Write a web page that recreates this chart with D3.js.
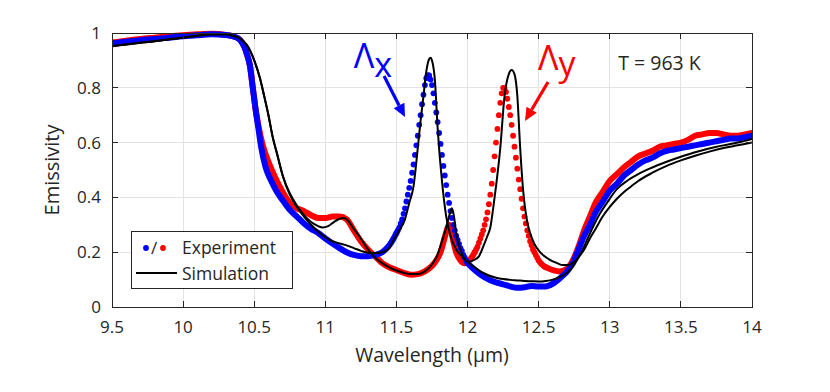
<!DOCTYPE html>
<html>
<head>
<meta charset="utf-8">
<script src="https://cdn.jsdelivr.net/npm/d3@7"></script>
<style>
  html, body { margin: 0; padding: 0; background: #fff; }
  svg { display: block; font-family: "Open Sans", "Noto Sans", sans-serif; }
</style>
</head>
<body>
<svg id="chart" width="830" height="392"></svg>
<script>
// ---------------- data ----------------
const xTicks = [9.5, 10, 10.5, 11, 11.5, 12, 12.5, 13, 13.5, 14];
const yTicks = [0, 0.2, 0.4, 0.6, 0.8, 1];

// Experiment, Λx (blue) – solid-looking parts
const blueLineA = [
  [9.50,0.962],[9.60,0.968],[9.70,0.974],[9.80,0.978],[9.90,0.983],[10.00,0.988],[10.10,0.992],
  [10.20,0.995],[10.30,0.993],[10.35,0.988],[10.40,0.975],[10.43,0.95],[10.45,0.92],[10.47,0.88],
  [10.49,0.80],[10.51,0.72],[10.53,0.65],[10.55,0.58],[10.58,0.51],[10.62,0.46],[10.66,0.42],
  [10.70,0.39],[10.75,0.355],[10.80,0.33],[10.85,0.305],[10.90,0.285],[10.95,0.27],[11.00,0.25],
  [11.05,0.232],[11.10,0.215],[11.15,0.20],[11.20,0.19],[11.25,0.185],[11.30,0.185],[11.35,0.19],
  [11.40,0.20],[11.45,0.225],[11.48,0.25],[11.50,0.27]
];
// Experiment, Λx – resonance sampled points (drawn as separate dots)
const blueDotsX = [11.50,11.51,11.52,11.53,11.54,11.55,11.56,11.57,11.58,11.59,11.60,11.61,11.62,11.63,11.64,
  11.65,11.66,11.67,11.68,11.69,11.70,11.71,11.72,11.73,11.74,11.75,11.76,11.77,11.78,11.79,11.80,11.81,
  11.82,11.83,11.84,11.85,11.86,11.87,11.88,11.89,11.90,11.91,11.92,11.93,11.94,11.95,11.96,11.97,11.98,
  11.99,12.00];
const blueDotsY = [0.27,0.28,0.29,0.305,0.32,0.34,0.36,0.385,0.41,0.435,0.46,0.49,0.52,0.555,0.59,
  0.625,0.665,0.70,0.74,0.775,0.81,0.835,0.846,0.845,0.83,0.81,0.78,0.745,0.71,0.675,0.635,0.595,
  0.555,0.515,0.48,0.445,0.41,0.38,0.35,0.325,0.30,0.28,0.26,0.245,0.23,0.215,0.205,0.19,0.18,
  0.17,0.16];
const blueLineB = [
  [12.00,0.16],[12.05,0.135],[12.10,0.115],[12.15,0.10],[12.20,0.09],[12.25,0.083],[12.30,0.075],
  [12.35,0.07],[12.40,0.072],[12.45,0.077],[12.50,0.075],[12.55,0.075],[12.60,0.085],[12.65,0.105],
  [12.70,0.13],[12.74,0.16],[12.78,0.21],[12.82,0.26],[12.86,0.30],[12.90,0.345],[12.95,0.385],
  [13.00,0.425],[13.05,0.45],[13.10,0.48],[13.15,0.50],[13.20,0.52],[13.25,0.535],[13.30,0.545],
  [13.35,0.56],[13.40,0.57],[13.45,0.575],[13.50,0.58],[13.55,0.585],[13.60,0.59],[13.65,0.595],
  [13.70,0.60],[13.75,0.605],[13.80,0.61],[13.85,0.615],[13.90,0.615],[13.95,0.62],[14.00,0.625]
];

// Experiment, Λy (red)
const redLineA = [
  [9.50,0.965],[9.60,0.972],[9.70,0.978],[9.80,0.983],[9.90,0.988],[10.00,0.992],[10.10,0.995],
  [10.20,0.997],[10.30,0.993],[10.35,0.988],[10.40,0.975],[10.43,0.95],[10.45,0.92],[10.47,0.88],
  [10.49,0.80],[10.51,0.72],[10.53,0.66],[10.56,0.59],[10.60,0.53],[10.65,0.47],[10.70,0.42],
  [10.75,0.38],[10.80,0.36],[10.85,0.35],[10.90,0.335],[10.95,0.325],[11.00,0.325],[11.05,0.33],
  [11.10,0.33],[11.15,0.32],[11.20,0.28],[11.25,0.24],[11.30,0.21],[11.35,0.185],[11.40,0.16],
  [11.45,0.145],[11.50,0.135],[11.55,0.125],[11.60,0.118],[11.65,0.12],[11.70,0.13],[11.75,0.15],
  [11.78,0.17],[11.81,0.20],[11.84,0.255],[11.86,0.29],[11.87,0.30],[11.88,0.29],[11.90,0.24],
  [11.92,0.20],[11.95,0.17],[11.98,0.16],[12.00,0.165],[12.02,0.175],[12.04,0.19],[12.05,0.20]
];
const redDotsX = [12.05,12.06,12.07,12.08,12.09,12.10,12.11,12.12,12.13,12.14,12.15,12.16,12.17,12.18,
  12.19,12.20,12.21,12.22,12.23,12.24,12.25,12.26,12.27,12.28,12.29,12.30,12.31,12.32,12.33,12.34,12.35,
  12.36,12.37,12.38,12.39,12.40,12.41,12.42,12.43,12.44,12.45,12.46,12.47,12.48,12.49,12.50,12.51,12.52,
  12.53,12.54,12.55];
const redDotsY = [0.20,0.21,0.22,0.235,0.25,0.265,0.28,0.30,0.32,0.345,0.375,0.41,0.45,0.50,
  0.55,0.60,0.65,0.70,0.745,0.78,0.80,0.80,0.785,0.76,0.73,0.70,0.665,0.625,0.585,0.545,0.505,
  0.465,0.43,0.395,0.36,0.33,0.305,0.28,0.26,0.24,0.225,0.21,0.20,0.19,0.18,0.17,0.163,0.157,
  0.152,0.148,0.145];
const redLineB = [
  [12.55,0.145],[12.60,0.135],[12.65,0.13],[12.70,0.14],[12.74,0.17],[12.78,0.22],[12.82,0.28],
  [12.86,0.33],[12.90,0.38],[12.95,0.42],[13.00,0.46],[13.05,0.485],[13.10,0.51],[13.15,0.53],
  [13.20,0.55],[13.25,0.56],[13.30,0.57],[13.35,0.585],[13.40,0.59],[13.45,0.595],[13.50,0.60],
  [13.55,0.61],[13.60,0.625],[13.65,0.63],[13.70,0.635],[13.75,0.635],[13.80,0.63],[13.85,0.625],
  [13.90,0.625],[13.95,0.63],[14.00,0.635]
];

// Simulation (black), Λx and Λy
const simX = [
  [9.50,0.952],[9.60,0.958],[9.70,0.964],[9.80,0.97],[9.90,0.977],[10.00,0.983],[10.10,0.99],
  [10.20,0.995],[10.30,0.995],[10.35,0.99],[10.40,0.98],[10.45,0.955],[10.50,0.90],[10.54,0.836],
  [10.57,0.77],[10.60,0.70],[10.63,0.62],[10.66,0.56],[10.70,0.48],[10.75,0.41],[10.80,0.365],
  [10.85,0.33],[10.90,0.30],[10.95,0.275],[11.00,0.255],[11.05,0.24],[11.10,0.232],[11.15,0.225],
  [11.20,0.215],[11.25,0.205],[11.30,0.198],[11.35,0.197],[11.40,0.20],[11.45,0.215],[11.48,0.245],
  [11.52,0.28],[11.56,0.32],[11.59,0.38],[11.62,0.44],[11.65,0.58],[11.67,0.68],[11.69,0.77],
  [11.71,0.86],[11.73,0.905],[11.74,0.91],[11.75,0.90],[11.77,0.83],[11.79,0.65],[11.82,0.46],
  [11.85,0.33],[11.88,0.26],[11.92,0.21],[11.96,0.185],[12.00,0.165],[12.05,0.145],[12.10,0.127],
  [12.15,0.115],[12.20,0.107],[12.25,0.102],[12.30,0.099],[12.35,0.097],[12.40,0.095],[12.45,0.094],
  [12.50,0.093],[12.55,0.095],[12.60,0.10],[12.65,0.11],[12.70,0.125],[12.74,0.147],[12.78,0.18],
  [12.82,0.21],[12.86,0.25],[12.90,0.285],[12.95,0.33],[13.00,0.365],[13.05,0.395],[13.10,0.42],
  [13.15,0.44],[13.20,0.46],[13.30,0.49],[13.40,0.515],[13.50,0.535],[13.60,0.552],[13.70,0.567],
  [13.80,0.58],[13.90,0.59],[14.00,0.60]
];
const simY = [
  [9.50,0.952],[9.60,0.958],[9.70,0.964],[9.80,0.97],[9.90,0.977],[10.00,0.983],[10.10,0.99],
  [10.20,0.995],[10.30,0.995],[10.35,0.99],[10.40,0.98],[10.45,0.955],[10.50,0.90],[10.54,0.836],
  [10.57,0.77],[10.60,0.70],[10.63,0.62],[10.66,0.56],[10.70,0.48],[10.75,0.415],[10.80,0.37],
  [10.85,0.335],[10.90,0.31],[10.95,0.295],[10.98,0.29],[11.02,0.295],[11.06,0.31],[11.10,0.322],
  [11.13,0.325],[11.16,0.315],[11.20,0.285],[11.25,0.25],[11.30,0.21],[11.35,0.18],[11.40,0.16],
  [11.45,0.145],[11.50,0.133],[11.55,0.125],[11.60,0.12],[11.65,0.12],[11.70,0.13],[11.75,0.155],
  [11.78,0.18],[11.82,0.24],[11.85,0.29],[11.875,0.34],[11.89,0.36],[11.905,0.33],[11.92,0.27],
  [11.95,0.21],[11.98,0.175],[12.01,0.165],[12.04,0.17],[12.08,0.185],[12.11,0.22],[12.14,0.26],
  [12.16,0.29],[12.18,0.36],[12.20,0.44],[12.23,0.58],[12.26,0.77],[12.29,0.85],[12.31,0.865],
  [12.33,0.85],[12.35,0.77],[12.37,0.58],[12.39,0.43],[12.42,0.31],[12.44,0.27],[12.47,0.23],
  [12.51,0.20],[12.57,0.175],[12.63,0.16],[12.67,0.153],[12.70,0.153],[12.74,0.16],[12.79,0.19],
  [12.84,0.245],[12.88,0.29],[12.93,0.34],[12.98,0.38],[13.05,0.43],[13.12,0.46],[13.20,0.485],
  [13.28,0.505],[13.40,0.53],[13.51,0.55],[13.60,0.565],[13.75,0.585],[13.90,0.60],[14.00,0.613]
];

// ---------------- chart ----------------
const W = 830, H = 392;
const margin = {left: 112, right: 78, top: 33, bottom: 85};
const svg = d3.select("#chart");
const x = d3.scaleLinear().domain([9.5, 14]).range([margin.left, W - margin.right]);
const y = d3.scaleLinear().domain([0, 1]).range([H - margin.bottom, margin.top]);
const axisColor = "#262626";
const gridColor = "#e3e3e3";

// grid
const grid = svg.append("g");
grid.selectAll("line.gx").data(xTicks.slice(1, -1)).join("line")
  .attr("x1", d => x(d)).attr("x2", d => x(d))
  .attr("y1", y(0)).attr("y2", y(1))
  .attr("stroke", gridColor).attr("stroke-width", 1).attr("shape-rendering", "crispEdges");
grid.selectAll("line.gy").data(yTicks.slice(1, -1)).join("line")
  .attr("x1", x(9.5)).attr("x2", x(14))
  .attr("y1", d => y(d)).attr("y2", d => y(d))
  .attr("stroke", gridColor).attr("stroke-width", 1).attr("shape-rendering", "crispEdges");

// data layer, clipped to axes box
svg.append("clipPath").attr("id", "clip").append("rect")
  .attr("x", x(9.5)).attr("y", y(1) - 4).attr("width", x(14) - x(9.5)).attr("height", y(0) - y(1) + 4);
const plot = svg.append("g").attr("clip-path", "url(#clip)");

const line = d3.line().x(d => x(d[0])).y(d => y(d[1])).curve(d3.curveMonotoneX);

function expSeries(a, dx, dy, b, color) {
  plot.append("path").attr("d", line(a)).attr("fill", "none").attr("stroke", color)
    .attr("stroke-width", 6).attr("stroke-linejoin", "round").attr("stroke-linecap", "round");
  plot.append("path").attr("d", line(b)).attr("fill", "none").attr("stroke", color)
    .attr("stroke-width", 6).attr("stroke-linejoin", "round").attr("stroke-linecap", "round");
  plot.append("g").selectAll("circle").data(dx.map((v, i) => [v, dy[i]])).join("circle")
    .attr("cx", d => x(d[0])).attr("cy", d => y(d[1])).attr("r", 2.9).attr("fill", color);
}
expSeries(redLineA, redDotsX, redDotsY, redLineB, "#ff0000");
expSeries(blueLineA, blueDotsX, blueDotsY, blueLineB, "#0000ff");

[simX, simY].forEach(s => {
  plot.append("path").attr("d", line(s)).attr("fill", "none").attr("stroke", "#000")
    .attr("stroke-width", 2).attr("stroke-linejoin", "round");
});

// axes box + ticks (MATLAB style, ticks inward on all sides)
const axes = svg.append("g").attr("shape-rendering", "crispEdges");
axes.append("rect").attr("x", x(9.5)).attr("y", y(1))
  .attr("width", x(14) - x(9.5)).attr("height", y(0) - y(1))
  .attr("fill", "none").attr("stroke", axisColor).attr("stroke-width", 1);
const tl = 6;
axes.selectAll("line.tb").data(xTicks).join("line")
  .attr("x1", d => x(d)).attr("x2", d => x(d)).attr("y1", y(0)).attr("y2", y(0) - tl)
  .attr("stroke", axisColor);
axes.selectAll("line.tt").data(xTicks).join("line")
  .attr("x1", d => x(d)).attr("x2", d => x(d)).attr("y1", y(1)).attr("y2", y(1) + tl)
  .attr("stroke", axisColor);
axes.selectAll("line.tlft").data(yTicks).join("line")
  .attr("x1", x(9.5)).attr("x2", x(9.5) + tl).attr("y1", d => y(d)).attr("y2", d => y(d))
  .attr("stroke", axisColor);
axes.selectAll("line.trgt").data(yTicks).join("line")
  .attr("x1", x(14)).attr("x2", x(14) - tl).attr("y1", d => y(d)).attr("y2", d => y(d))
  .attr("stroke", axisColor);

// tick labels
svg.append("g").selectAll("text").data(xTicks).join("text")
  .attr("x", d => x(d)).attr("y", y(0) + 26).attr("text-anchor", "middle")
  .attr("font-size", 17).attr("fill", axisColor).text(d => String(d));
svg.append("g").selectAll("text").data(yTicks).join("text")
  .attr("x", x(9.5) - 11).attr("y", d => y(d) + 6).attr("text-anchor", "end")
  .attr("font-size", 17).attr("fill", axisColor).text(d => String(d));

// axis labels
svg.append("text").attr("x", (x(9.5) + x(14)) / 2).attr("y", y(0) + 55)
  .attr("text-anchor", "middle").attr("font-size", 19.5).attr("fill", axisColor)
  .text("Wavelength (μm)");
svg.append("text").attr("transform", `translate(59,${(y(0) + y(1)) / 2}) rotate(-90)`)
  .attr("text-anchor", "middle").attr("font-size", 20).attr("fill", axisColor)
  .text("Emissivity");

// annotations
function label(lx, ly, sub, dy, color) {
  const t = svg.append("text").attr("x", x(lx)).attr("y", y(ly)).attr("font-size", 34).attr("fill", color);
  t.append("tspan").text("Λ");
  t.append("tspan").attr("dy", dy).text(sub);
}
label(11.20, 0.872, "x", 9, "#0000ff");
label(12.495, 0.865, "y", 6, "#ff0000");

function arrow(x0, y0, x1, y1, color) {
  const p0 = [x(x0), y(y0)], p1 = [x(x1), y(y1)];
  const ang = Math.atan2(p1[1] - p0[1], p1[0] - p0[0]);
  const hl = 13, hw = 6;
  const bx = p1[0] - hl * Math.cos(ang), by = p1[1] - hl * Math.sin(ang);
  svg.append("line").attr("x1", p0[0]).attr("y1", p0[1]).attr("x2", bx).attr("y2", by)
    .attr("stroke", color).attr("stroke-width", 3.2);
  svg.append("path").attr("d", `M${p1[0]},${p1[1]}L${bx + hw * Math.sin(ang)},${by - hw * Math.cos(ang)}L${bx - hw * Math.sin(ang)},${by + hw * Math.cos(ang)}Z`)
    .attr("fill", color);
}
arrow(11.413, 0.843, 11.56, 0.693, "#0000ff");
arrow(12.566, 0.821, 12.404, 0.679, "#ff0000");

svg.append("text").attr("x", x(13.06)).attr("y", y(0.865)).attr("font-size", 19.5)
  .attr("fill", axisColor).text("T = 963 K");

// legend
const lg = svg.append("g");
lg.append("rect").attr("x", 131).attr("y", 231).attr("width", 161).attr("height", 57)
  .attr("fill", "#fff").attr("stroke", axisColor).attr("stroke-width", 1).attr("shape-rendering", "crispEdges");
lg.append("circle").attr("cx", 146).attr("cy", 248).attr("r", 2.9).attr("fill", "#0000ff");
lg.append("text").attr("x", 154).attr("y", 254).attr("text-anchor", "middle").attr("font-size", 17)
  .attr("fill", axisColor).text("/");
lg.append("circle").attr("cx", 163).attr("cy", 248).attr("r", 2.9).attr("fill", "#ff0000");
lg.append("text").attr("x", 182).attr("y", 254).attr("font-size", 17.5).attr("fill", axisColor).text("Experiment");
lg.append("line").attr("x1", 136).attr("x2", 177).attr("y1", 273).attr("y2", 273)
  .attr("stroke", "#000").attr("stroke-width", 2);
lg.append("text").attr("x", 182).attr("y", 280).attr("font-size", 17.5).attr("fill", axisColor).text("Simulation");
</script>
</body>
</html>
